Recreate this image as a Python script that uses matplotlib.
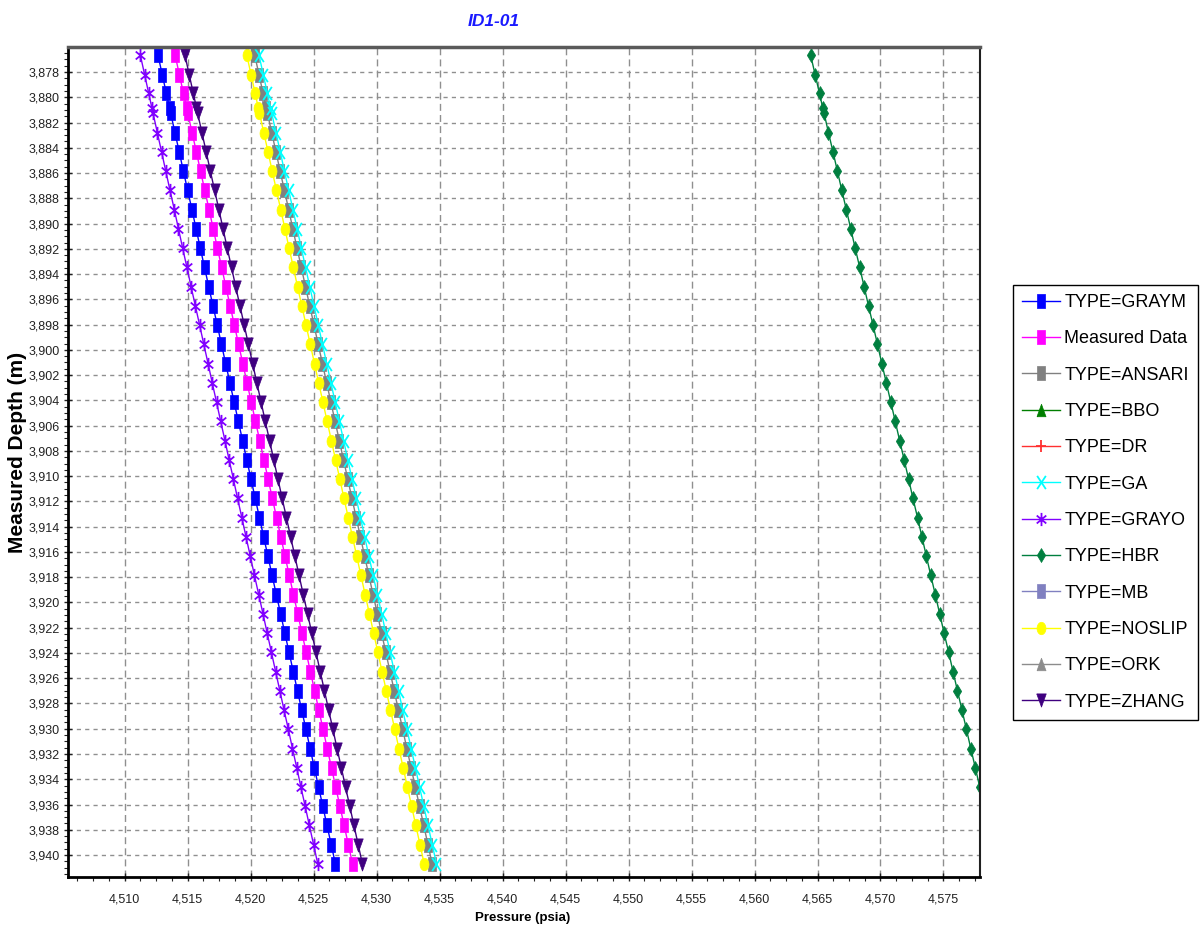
import numpy as np
import matplotlib
matplotlib.use("Agg")
import matplotlib.pyplot as plt
from matplotlib.path import Path
from matplotlib.ticker import MultipleLocator, AutoMinorLocator, FuncFormatter

plt.rcParams['font.family'] = ['Liberation Sans', 'DejaVu Sans']

# ---------------- data ----------------
depth = [3876.65, 3878.20, 3879.70, 3880.85, 3881.25, 3882.80, 3884.32, 3885.85, 3887.37,
         3888.90, 3890.42, 3891.94, 3893.47, 3894.99, 3896.52, 3898.04, 3899.56, 3901.09,
         3902.61, 3904.14, 3905.66, 3907.18, 3908.71, 3910.23, 3911.76, 3913.28, 3914.80,
         3916.33, 3917.85, 3919.38, 3920.90, 3922.42, 3923.95, 3925.47, 3927.00, 3928.52,
         3930.04, 3931.57, 3933.09, 3934.62, 3936.14, 3937.66, 3939.19, 3940.71]

graym = [4512.64, 4512.98, 4513.31, 4513.56, 4513.65, 4513.99, 4514.33, 4514.66, 4515.00,
         4515.34, 4515.67, 4516.00, 4516.34, 4516.67, 4517.01, 4517.35, 4517.68, 4518.02,
         4518.35, 4518.69, 4519.02, 4519.36, 4519.69, 4520.03, 4520.36, 4520.70, 4521.03,
         4521.37, 4521.70, 4522.04, 4522.38, 4522.71, 4523.05, 4523.38, 4523.72, 4524.05,
         4524.39, 4524.72, 4525.06, 4525.39, 4525.73, 4526.06, 4526.40, 4526.73]

measured = [4514.00, 4514.34, 4514.67, 4514.92, 4515.01, 4515.35, 4515.69, 4516.02, 4516.36,
            4516.70, 4517.03, 4517.36, 4517.70, 4518.03, 4518.37, 4518.71, 4519.04, 4519.38,
            4519.71, 4520.05, 4520.38, 4520.72, 4521.05, 4521.39, 4521.72, 4522.06, 4522.39,
            4522.73, 4523.06, 4523.40, 4523.74, 4524.07, 4524.41, 4524.74, 4525.08, 4525.41,
            4525.75, 4526.08, 4526.42, 4526.75, 4527.09, 4527.42, 4527.76, 4528.09]

ansari = [4520.32, 4520.66, 4520.99, 4521.24, 4521.33, 4521.67, 4522.01, 4522.34, 4522.68,
          4523.02, 4523.35, 4523.68, 4524.02, 4524.35, 4524.69, 4525.03, 4525.36, 4525.70,
          4526.03, 4526.37, 4526.70, 4527.04, 4527.37, 4527.71, 4528.04, 4528.38, 4528.71,
          4529.05, 4529.38, 4529.72, 4530.06, 4530.39, 4530.73, 4531.06, 4531.40, 4531.73,
          4532.07, 4532.40, 4532.74, 4533.07, 4533.41, 4533.74, 4534.08, 4534.41]

ga = [4520.66, 4521.00, 4521.33, 4521.58, 4521.67, 4522.01, 4522.35, 4522.68, 4523.02,
      4523.36, 4523.69, 4524.02, 4524.36, 4524.69, 4525.03, 4525.37, 4525.70, 4526.04,
      4526.37, 4526.71, 4527.04, 4527.38, 4527.71, 4528.05, 4528.38, 4528.72, 4529.05,
      4529.39, 4529.72, 4530.06, 4530.40, 4530.73, 4531.07, 4531.40, 4531.74, 4532.07,
      4532.41, 4532.74, 4533.08, 4533.41, 4533.75, 4534.08, 4534.42, 4534.75]

grayo = [4511.24, 4511.58, 4511.91, 4512.16, 4512.25, 4512.59, 4512.93, 4513.26, 4513.60,
         4513.94, 4514.27, 4514.60, 4514.94, 4515.27, 4515.61, 4515.95, 4516.28, 4516.62,
         4516.95, 4517.29, 4517.62, 4517.96, 4518.29, 4518.63, 4518.96, 4519.30, 4519.63,
         4519.97, 4520.30, 4520.64, 4520.98, 4521.31, 4521.65, 4521.98, 4522.32, 4522.65,
         4522.99, 4523.32, 4523.66, 4523.99, 4524.33, 4524.66, 4525.00, 4525.33]

hbr = [4564.45, 4564.81, 4565.16, 4565.42, 4565.52, 4565.87, 4566.23, 4566.58, 4566.93,
       4567.29, 4567.64, 4567.99, 4568.35, 4568.70, 4569.05, 4569.41, 4569.76, 4570.11,
       4570.46, 4570.82, 4571.17, 4571.52, 4571.88, 4572.23, 4572.58, 4572.94, 4573.29,
       4573.64, 4573.99, 4574.35, 4574.70, 4575.05, 4575.41, 4575.76, 4576.11, 4576.47,
       4576.82, 4577.17, 4577.53, 4577.88, 4578.23, 4578.58, 4578.94, 4579.29]

noslip = [4519.69, 4520.03, 4520.36, 4520.61, 4520.70, 4521.04, 4521.38, 4521.71, 4522.05,
          4522.39, 4522.72, 4523.05, 4523.39, 4523.72, 4524.06, 4524.40, 4524.73, 4525.07,
          4525.40, 4525.74, 4526.07, 4526.41, 4526.74, 4527.08, 4527.41, 4527.75, 4528.08,
          4528.42, 4528.75, 4529.09, 4529.43, 4529.76, 4530.10, 4530.43, 4530.77, 4531.10,
          4531.44, 4531.77, 4532.11, 4532.44, 4532.78, 4533.11, 4533.45, 4533.78]

zhang = [4514.78, 4515.12, 4515.45, 4515.70, 4515.79, 4516.13, 4516.47, 4516.80, 4517.14,
         4517.48, 4517.81, 4518.14, 4518.48, 4518.81, 4519.15, 4519.49, 4519.82, 4520.16,
         4520.49, 4520.83, 4521.16, 4521.50, 4521.83, 4522.17, 4522.50, 4522.84, 4523.17,
         4523.51, 4523.84, 4524.18, 4524.52, 4524.85, 4525.19, 4525.52, 4525.86, 4526.19,
         4526.53, 4526.86, 4527.20, 4527.53, 4527.87, 4528.20, 4528.54, 4528.87]

# series that lie outside the visible pressure window (not visible in the picture)
depth_end = [3876.65, 3940.71]
bbo = [4586.0, 4600.5]
dr = [4590.0, 4605.0]
mb = [4588.0, 4602.5]
ork = [4584.0, 4598.5]

labels = ["TYPE=GRAYM", "Measured Data", "TYPE=ANSARI", "TYPE=BBO", "TYPE=DR", "TYPE=GA",
          "TYPE=GRAYO", "TYPE=HBR", "TYPE=MB", "TYPE=NOSLIP", "TYPE=ORK", "TYPE=ZHANG"]

# ---------------- marker shapes (tall, as in the stretched original) ----------------
rect = [(-0.33, -0.5), (0.33, -0.5), (0.33, 0.5), (-0.33, 0.5), (-0.33, -0.5)]
diam = [(0, -0.5), (0.3, 0), (0, 0.5), (-0.3, 0), (0, -0.5)]
tri_dn = [(-0.36, 0.5), (0.36, 0.5), (0, -0.5), (-0.36, 0.5)]
tri_up = [(-0.36, -0.5), (0.36, -0.5), (0, 0.5), (-0.36, -0.5)]
th = np.linspace(0, 2 * np.pi, 25)
ellip = list(zip(0.36 * np.cos(th), 0.5 * np.sin(th)))
xmark = Path([(-0.33, -0.5), (0.33, 0.5), (-0.33, 0.5), (0.33, -0.5)],
             [Path.MOVETO, Path.LINETO, Path.MOVETO, Path.LINETO])
astmark = Path([(0, -0.5), (0, 0.5), (-0.36, -0.3), (0.36, 0.3), (-0.36, 0.3), (0.36, -0.3)],
               [Path.MOVETO, Path.LINETO, Path.MOVETO, Path.LINETO, Path.MOVETO, Path.LINETO])
plusmark = Path([(0, -0.5), (0, 0.5), (-0.4, 0), (0.4, 0)],
                [Path.MOVETO, Path.LINETO, Path.MOVETO, Path.LINETO])

fig = plt.figure(figsize=(12.03, 9.35), dpi=100)
W, H = 1203, 935
L, R, T, B = 68, 980, 47, 877
ax = fig.add_axes([L / W, 1 - B / H, (R - L) / W, (B - T) / H])

series = [
    (depth, graym, labels[0], '#0000ff', rect, 9.5, True),
    (depth, measured, labels[1], '#ff00ff', rect, 9.5, True),
    (depth, ansari, labels[2], '#808080', rect, 9.5, True),
    (depth_end, bbo, labels[3], '#007f00', tri_up, 9.0, True),
    (depth_end, dr, labels[4], '#ff3030', plusmark, 9.0, False),
    (depth, ga, labels[5], '#00ffff', xmark, 9.5, False),
    (depth, grayo, labels[6], '#8000ff', astmark, 9.5, False),
    (depth, hbr, labels[7], '#007f3f', diam, 10.0, True),
    (depth_end, mb, labels[8], '#8080c0', rect, 9.5, True),
    (depth, noslip, labels[9], '#ffff00', ellip, 9.0, True),
    (depth_end, ork, labels[10], '#8c8c8c', tri_up, 9.0, True),
    (depth, zhang, labels[11], '#3f007f', tri_dn, 9.5, True),
]

handles = []
for d, p, lab, col, mk, ms, filled in series:
    if filled:
        h, = ax.plot(p, d, color=col, lw=1.0, marker=mk, markersize=ms,
                     markerfacecolor=col, markeredgecolor=col, markeredgewidth=0.5,
                     label=lab, clip_on=True)
    else:
        h, = ax.plot(p, d, color=col, lw=1.0, marker=mk, markersize=ms,
                     markerfacecolor='none', markeredgecolor=col, markeredgewidth=1.3,
                     label=lab, clip_on=True)
    handles.append(h)

ax.set_xlim(4505.5, 4577.9)
ax.set_ylim(3941.74, 3876.02)

ax.xaxis.set_major_locator(MultipleLocator(5))
ax.xaxis.set_minor_locator(AutoMinorLocator(4))
ax.yaxis.set_major_locator(MultipleLocator(2))
ax.yaxis.set_minor_locator(AutoMinorLocator(4))
fmt = FuncFormatter(lambda v, pos: f"{v:,.0f}")
ax.xaxis.set_major_formatter(fmt)
ax.yaxis.set_major_formatter(fmt)

ax.tick_params(axis='both', which='major', direction='inout', length=6, width=1,
               labelsize=9, colors='#222222')
ax.tick_params(axis='both', which='minor', direction='out', length=3, width=0.8,
               colors='#222222')
ax.tick_params(axis='y', which='major', pad=3)
ax.tick_params(axis='x', which='major', pad=9)

ax.xaxis.grid(True, which='major', color='#8f8f8f', linestyle=(0, (5, 3)), lw=1.0)
ax.yaxis.grid(True, which='major', color='#8f8f8f', linestyle=(0, (3, 3)), lw=1.0)
ax.set_axisbelow(True)

for s in ['left', 'bottom']:
    ax.spines[s].set_color('black')
    ax.spines[s].set_linewidth(2.0)
ax.spines['top'].set_color('#5a5a5a')
ax.spines['top'].set_linewidth(2.5)
ax.spines['right'].set_color('#202020')
ax.spines['right'].set_linewidth(1.5)

fig.text(494 / W, 1 - 22 / H, "ID1-01", color='#1a1aff', fontsize=12.5,
         fontweight='bold', fontstyle='italic', ha='center', va='center')
fig.text(523 / W, 1 - 918 / H, "Pressure (psia)", color='black', fontsize=9.5,
         fontweight='bold', ha='center', va='center')
fig.text(18 / W, 1 - 452 / H, "Measured Depth (m)", color='black', fontsize=15,
         fontweight='bold', ha='center', va='center', rotation=90)

leg = fig.legend(handles=handles, labels=labels, loc='upper left',
                 bbox_to_anchor=(1013 / W, 1 - 285 / H), bbox_transform=fig.transFigure,
                 fontsize=13, frameon=True, fancybox=False, framealpha=1,
                 edgecolor='black', borderpad=0.5, labelspacing=1.07,
                 handlelength=2.1, handletextpad=0.25, borderaxespad=0)
leg.get_frame().set_linewidth(1.0)

fig.savefig("out.png", dpi=100)
